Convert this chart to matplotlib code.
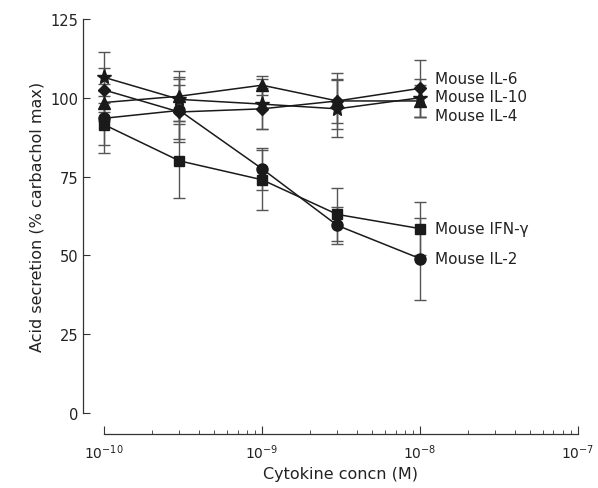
import numpy as np
from matplotlib import pyplot as plt
from matplotlib import ticker

# concentrations (M)
conc = [1e-10, 3e-10, 1e-9, 3e-9, 1e-8]

# mean acid secretion (% carbachol max) and error
il6 = [102.5, 95.5, 96.5, 99, 103]
il6_err = [7, 8.5, 6.5, 9, 9]
il10 = [106.5, 99.5, 98, 96.5, 100]
il10_err = [8, 7, 8, 9, 6]
il4 = [98.5, 100.5, 104, 99, 99]
il4_err = [6, 8, 3, 7, 5]
il2 = [93.5, 96, 77.5, 59.5, 49]
il2_err = [8.5, 10, 6.7, 6, 13]
ifn = [91.5, 80, 74, 63, 58.5]
ifn_err = [9, 11.7, 9.5, 8.5, 8.5]

series = [
    (il6, il6_err, "D", 6.5, "Mouse IL-6"),
    (il10, il10_err, "*", 11, "Mouse IL-10"),
    (il4, il4_err, "^", 8, "Mouse IL-4"),
    (il2, il2_err, "o", 8, "Mouse IL-2"),
    (ifn, ifn_err, "s", 7, "Mouse IFN-\u03b3"),
]
label_y = {"Mouse IL-6": 106, "Mouse IL-10": 100.3, "Mouse IL-4": 94.3,
           "Mouse IFN-\u03b3": 58.4, "Mouse IL-2": 48.9}

fig = plt.figure(figsize=(5.98, 4.89), dpi=100)
ax = fig.add_axes([0.1739, 0.1534, 0.7926, 0.8057])

for y, err, mk, ms, name in series:
    ax.errorbar(conc, y, yerr=err, fmt="-", color="#1a1a1a", lw=1.1,
                ecolor="#555555", elinewidth=1.0, capsize=4.5, capthick=1.0,
                marker=mk, markersize=ms, zorder=3, clip_on=False)
    ax.text(1.25e-8, label_y[name], name, fontsize=11, va="center",
            color="#222222")

ax.set_xscale("log")
ax.set_xlim(1e-10, 1e-7)
ax.set_ylim(0, 125)
ax.set_yticks([0, 25, 50, 75, 100, 125])
ax.xaxis.set_major_locator(ticker.FixedLocator([1e-10, 1e-9, 1e-8, 1e-7]))
ax.xaxis.set_minor_locator(ticker.LogLocator(base=10, subs=np.arange(2, 10), numticks=10))
ax.xaxis.set_minor_formatter(ticker.NullFormatter())

for s in ["top", "right"]:
    ax.spines[s].set_visible(False)
ax.spines["left"].set_position(("outward", 15))
ax.spines["bottom"].set_position(("outward", 15))
for s in ["left", "bottom"]:
    ax.spines[s].set_color("#333333")
    ax.spines[s].set_linewidth(0.9)

ax.tick_params(axis="both", direction="in", labelsize=10.5, colors="#333333",
               labelcolor="#222222")
ax.tick_params(axis="x", which="major", length=6, pad=6, labelsize=10)
ax.tick_params(axis="x", which="minor", length=3, direction="in", colors="#333333")
ax.tick_params(axis="y", length=5)

ax.set_xlabel("Cytokine concn (M)", fontsize=11.5, color="#222222")
ax.set_ylabel("Acid secretion (% carbachol max)", fontsize=11.5, color="#222222")

fig.savefig("out.png", dpi=100)
